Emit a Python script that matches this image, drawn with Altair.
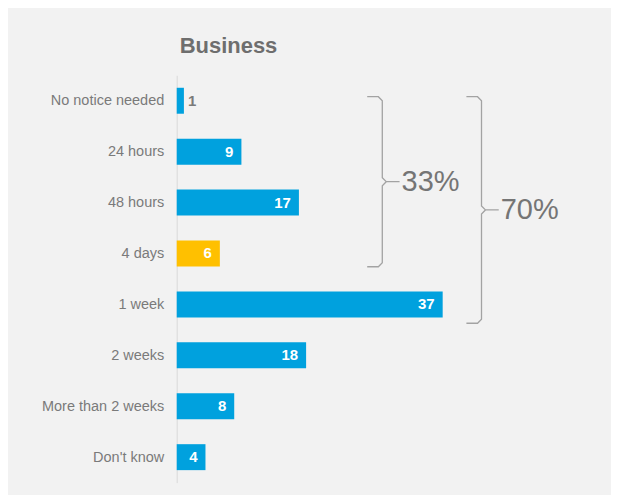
import json
import altair as alt
import pandas as pd

# ---- data ----
categories = ["No notice needed", "24 hours", "48 hours", "4 days",
              "1 week", "2 weeks", "More than 2 weeks", "Don't know"]
values = [1, 9, 17, 6, 37, 18, 8, 4]
highlight_category = "4 days"

# braces: label, extent (in category-index units), x of the spine (value units)
brace_labels = ["33%", "70%"]
brace_top = [-0.08, -0.08]
brace_bottom = [3.26, 4.37]
brace_x = [28.6, 42.4]

BLUE = "#00a1de"
ORANGE = "#ffc000"
GRAY_TEXT = "#7a7a7a"
BRACE_COLOR = "#a3a3a3"
SANS = "'Liberation Sans', Arial, sans-serif"

bars = pd.DataFrame({
    "idx": list(range(len(categories))),
    "category": categories,
    "value": values,
})

# brace geometry built from the brace parameters
hook, r, ry, nub = 2.1, 0.55, 0.08, 2.4
rows = []
for lab, top, bot, v in zip(brace_labels, brace_top, brace_bottom, brace_x):
    mid = (top + bot) / 2
    pts = [(v - hook, top), (v - r, top), (v, top + ry), (v, mid - ry),
           (v + r, mid), (v + nub, mid), (v + r, mid), (v, mid + ry),
           (v, bot - ry), (v - r, bot), (v - hook, bot)]
    for i, (px, py) in enumerate(pts):
        rows.append({"label": lab, "ord": i, "bx": px, "by": py})
brace_df = pd.DataFrame(rows)
brace_text = pd.DataFrame({
    "label": brace_labels,
    "tx": [v + nub for v in brace_x],
    "ty": [(t + b) / 2 for t, b in zip(brace_top, brace_bottom)],
})

x_scale = alt.Scale(domain=[0, 60], nice=False, zero=True, padding=0)
y_scale = alt.Scale(domain=[-0.5, len(categories) - 0.5], reverse=True,
                    nice=False, zero=False, padding=0)

y_axis = alt.Axis(
    values=list(range(len(categories))),
    labelExpr=f"{json.dumps(categories)}[datum.value]",
    title=None, ticks=False, grid=False,
    domainColor="#d9d9d9", domainWidth=1,
    labelFont=SANS, labelFontSize=14.5, labelColor=GRAY_TEXT,
    labelPadding=13, labelFlush=False, labelOverlap=False,
)

base = alt.Chart(bars)

bar_layer = base.mark_bar(orient="horizontal", size=26).encode(
    x=alt.X("value:Q", scale=x_scale, axis=None),
    y=alt.Y("idx:Q", scale=y_scale, axis=y_axis),
    color=alt.condition(alt.datum.category == highlight_category,
                        alt.value(ORANGE), alt.value(BLUE)),
)

inside_labels = base.transform_filter("datum.value >= 3").mark_text(
    align="right", baseline="middle", dx=-8, font=SANS,
    fontSize=15, fontWeight="bold", color="white",
).encode(
    x=alt.X("value:Q", scale=x_scale, axis=None),
    y=alt.Y("idx:Q", scale=y_scale),
    text="value:Q",
)

outside_labels = base.transform_filter("datum.value < 3").mark_text(
    align="left", baseline="middle", dx=4, font=SANS,
    fontSize=15, fontWeight="bold", color=GRAY_TEXT,
).encode(
    x=alt.X("value:Q", scale=x_scale, axis=None),
    y=alt.Y("idx:Q", scale=y_scale),
    text="value:Q",
)

brace_lines = alt.Chart(brace_df).mark_line(
    color=BRACE_COLOR, strokeWidth=1.3, interpolate="linear"
).encode(
    x=alt.X("bx:Q", scale=x_scale, axis=None),
    y=alt.Y("by:Q", scale=y_scale),
    detail="label:N",
    order="ord:Q",
)

brace_labels_layer = alt.Chart(brace_text).mark_text(
    align="left", baseline="middle", dx=2, font=SANS, fontSize=29,
    color="#757575",
).encode(
    x=alt.X("tx:Q", scale=x_scale, axis=None),
    y=alt.Y("ty:Q", scale=y_scale),
    text="label:N",
)

chart = alt.layer(
    bar_layer, inside_labels, outside_labels, brace_lines, brace_labels_layer
).properties(
    width=432,
    height=408,
    title=alt.TitleParams(
        "Business", anchor="start", frame="group", fontSize=22,
        fontWeight="bold", color="#6e6e6e", font=SANS,
        baseline="alphabetic", offset=0, dx=3,
    ),
    background="#f2f2f2",
    autosize=alt.AutoSizeParams(type="none"),
    padding={"left": 169, "top": 67, "right": 3, "bottom": 12},
).configure_view(strokeWidth=0)

chart.save("out.html", embed_options={"renderer": "svg", "actions": False})
